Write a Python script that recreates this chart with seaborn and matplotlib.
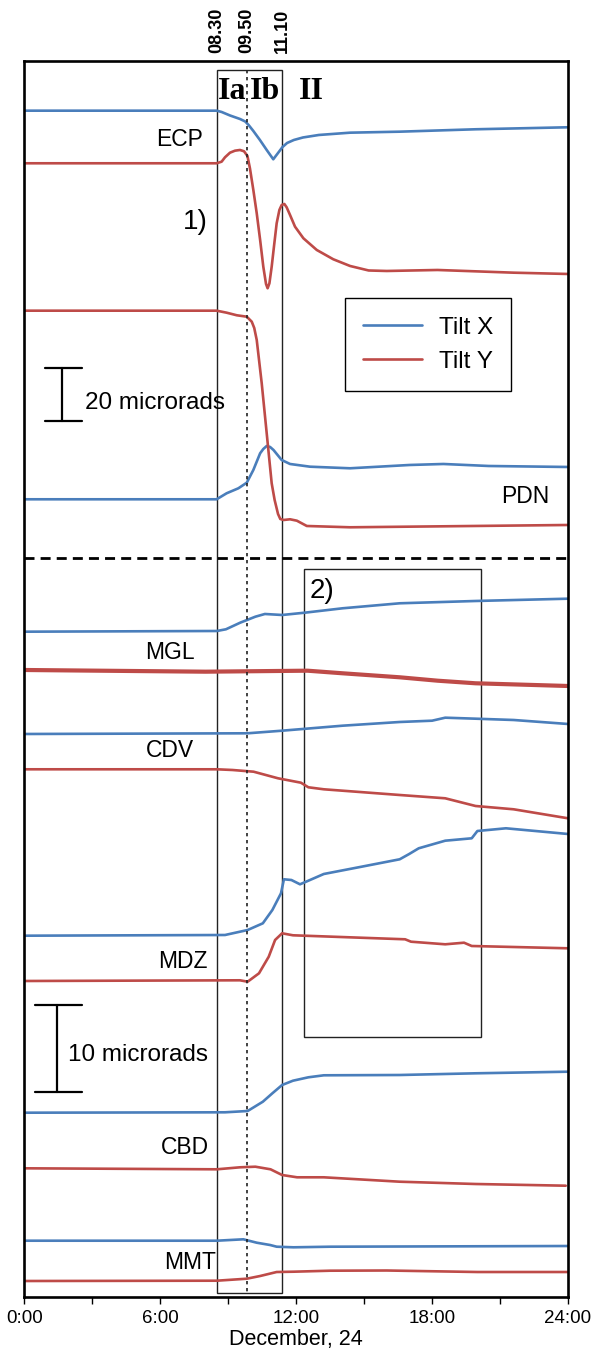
import matplotlib
matplotlib.use("Agg")
import matplotlib.pyplot as plt
from matplotlib.patches import Rectangle
from matplotlib.ticker import FixedLocator, FuncFormatter
import pandas as pd
import seaborn as sns

# ---- tilt records, December 24 (time in hours, vertical position in plot units) ----
ecp_x_t = [0, 8.49, 8.71, 9.08, 9.52, 9.75, 9.9, 10.11, 10.4, 10.7, 10.99, 11.2, 11.4, 11.6,
           11.9, 12.3, 13.0, 14.38, 16.57, 19.92, 24.0]
ecp_x_v = [110.7, 110.7, 112, 115.5, 119, 121.5, 125, 131, 140, 150, 159.3, 153, 147, 143,
           140, 137.5, 135, 132.7, 131.7, 129.3, 127.3]
ecp_y_t = [0, 8.49, 8.71, 8.86, 9.08, 9.30, 9.52, 9.70, 9.85, 9.96, 10.11, 10.26, 10.41, 10.55,
           10.67, 10.74, 10.82, 10.92, 11.02, 11.14, 11.26, 11.36, 11.48, 11.58, 11.73, 11.95,
           12.32, 12.91, 13.64, 14.38, 15.2, 16.0, 18.24, 21.6, 24.0]
ecp_y_v = [163.3, 163.3, 161.7, 157.3, 152.7, 150.7, 150, 151.3, 156, 168.3, 190, 213.3, 240, 266.7,
           284, 288.3, 283.3, 266.7, 246.7, 223.3, 210, 205, 204, 207.3, 215, 226.7,
           238.3, 250, 259.3, 266, 270.5, 271, 270, 272.7, 274]

pdn_y_t = [0, 8.49, 8.93, 9.38, 9.82, 10.04, 10.15, 10.26, 10.48, 10.7, 10.92, 11.05, 11.2, 11.3,
           11.45, 11.73, 12.03, 12.47, 14.38, 24.0]
pdn_y_v = [310.7, 310.7, 312.7, 315.3, 316.7, 321.7, 328, 340, 383.3, 433.3, 483.3, 500, 514, 519,
           520, 519.3, 520.7, 526, 527.3, 525]
pdn_x_t = [0, 8.49, 8.93, 9.45, 9.82, 10.11, 10.41, 10.55, 10.7, 10.85, 11.0, 11.36, 11.73,
           12.61, 14.38, 17.0, 18.5, 20.5, 24.0]
pdn_x_v = [499.3, 499.3, 493.3, 488.3, 482.7, 470, 453.3, 449, 446, 447, 450, 460, 464,
           466.7, 468.3, 465, 464, 466, 467]

mgl_x_t = [0, 8.5, 8.9, 9.53, 10.2, 10.62, 11.38, 12.38, 14.05, 16.57, 19.92, 24.0]
mgl_x_v = [631.7, 631, 629.3, 622.7, 616.7, 614, 615, 612.7, 608.3, 603.3, 601, 598.7]
mgl_y_t = [0, 8.0, 12.5, 14.05, 16.57, 18.24, 19.92, 24.0]
mgl_y_v = [670, 671.7, 670.7, 673.3, 677.3, 680.7, 683.3, 686]

cdv_x_t = [0, 9.86, 11.38, 14.05, 16.57, 18.0, 18.58, 19.92, 21.6, 24.0]
cdv_x_v = [734, 733.3, 730.7, 725.7, 722, 720.7, 717.7, 718.7, 720, 724]
cdv_y_t = [0, 8.5, 9.19, 10.12, 11.2, 12.21, 12.54, 13.22, 16.57, 18.58, 19.92, 21.6, 24.0]
cdv_y_v = [769.3, 769.3, 770, 771.7, 778.3, 782.7, 787.3, 789.3, 795, 798.3, 806, 809.3, 818.3]

mdz_x_t = [0, 8.86, 9.86, 10.53, 10.95, 11.33, 11.46, 11.79, 12.17, 12.54, 13.22, 14.89, 16.57,
           16.99, 17.41, 18.58, 19.75, 20.0, 21.26, 24.0]
mdz_x_v = [935.7, 935, 930, 923.3, 910, 893.3, 879.3, 880, 884.3, 880.7, 874, 866.7, 859.3,
           854, 848.3, 840.7, 838.3, 831, 828.3, 834]
mdz_y_t = [0, 9.52, 9.86, 10.36, 10.79, 11.07, 11.38, 11.86, 16.81, 17.07, 18.58, 19.41, 19.75, 24.0]
mdz_y_v = [981, 980.3, 981.7, 973.3, 956.7, 940, 933.3, 935.3, 939.3, 941.7, 944.3, 942.7, 946, 948.3]

cbd_x_t = [0, 8.86, 9.86, 10.53, 10.95, 11.38, 11.86, 12.54, 13.22, 16.57, 19.92, 24.0]
cbd_x_v = [1112.7, 1112.3, 1111, 1101.7, 1093.3, 1085, 1080.7, 1077.3, 1075.3, 1075, 1073.3, 1071.7]
cbd_y_t = [0, 8.5, 9.52, 10.2, 10.87, 11.38, 12.04, 13.22, 16.57, 19.92, 23.9]
cbd_y_v = [1168.3, 1169.3, 1167.3, 1166.7, 1169.3, 1175, 1177.3, 1177.3, 1181.7, 1184, 1185.7]

mmt_x_t = [0, 8.5, 9.67, 10.26, 10.85, 11.14, 11.88, 13.5, 24.0]
mmt_x_v = [1240.7, 1240.7, 1239.3, 1242.7, 1245, 1246.7, 1247.3, 1246.7, 1246]
mmt_y_t = [0, 8.5, 9.82, 10.41, 11.14, 11.88, 13.5, 16.0, 20.0, 24.0]
mmt_y_v = [1281, 1280.7, 1278.7, 1276, 1272, 1271.7, 1270.7, 1270.5, 1272, 1272]

stations = ["ECP", "PDN", "MGL", "CDV", "MDZ", "CBD", "MMT"]
tilt_x = {"ECP": (ecp_x_t, ecp_x_v), "PDN": (pdn_x_t, pdn_x_v), "MGL": (mgl_x_t, mgl_x_v),
          "CDV": (cdv_x_t, cdv_x_v), "MDZ": (mdz_x_t, mdz_x_v), "CBD": (cbd_x_t, cbd_x_v),
          "MMT": (mmt_x_t, mmt_x_v)}
tilt_y = {"ECP": (ecp_y_t, ecp_y_v), "PDN": (pdn_y_t, pdn_y_v), "MGL": (mgl_y_t, mgl_y_v),
          "CDV": (cdv_y_t, cdv_y_v), "MDZ": (mdz_y_t, mdz_y_v), "CBD": (cbd_y_t, cbd_y_v),
          "MMT": (mmt_y_t, mmt_y_v)}

# station label positions (hour, level)
station_labels = {"ECP": (6.87, 140), "PDN": (22.1, 497), "MGL": (6.43, 653), "CDV": (6.43, 751),
                  "MDZ": (7.01, 962), "CBD": (7.1, 1147), "MMT": (7.32, 1262)}

# phase boundaries (hours) and their labels
phase_bounds = [8.5, 9.83, 11.37]
phase_times = ["08.30", "09.50", "11.10"]
phase_names = [("Ia", 9.17), ("Ib", 10.63), ("II", 12.69)]

hour_ticks = [0, 6, 12, 18, 24]
hour_labels = ["0:00", "6:00", "12:00", "18:00", "24:00"]

BLUE = "#4A7EBB"
RED = "#BE4B48"

sns.set_theme(style="white")
plt.rcParams["font.family"] = ["Liberation Sans", "DejaVu Sans"]
plt.rcParams["text.color"] = "black"
plt.rcParams["axes.labelcolor"] = "black"
plt.rcParams["xtick.color"] = "black"
plt.rcParams["xtick.labelcolor"] = "black"

fig = plt.figure(figsize=(6.15, 13.55), dpi=100)
ax = fig.add_axes([0.0395, 0.0428, 0.8841, 0.9122])

rows = []
for st in stations:
    for comp, src in (("Tilt X", tilt_x), ("Tilt Y", tilt_y)):
        t, v = src[st]
        rows.append(pd.DataFrame({"hour": t, "level": v, "station": st, "component": comp}))
df = pd.concat(rows, ignore_index=True)

labelled = set()
for (st, comp), grp in df.groupby(["station", "component"], sort=False):
    color = BLUE if comp == "Tilt X" else RED
    lw = 3.0 if (st == "MGL" and comp == "Tilt Y") else 1.9
    label = comp if comp not in labelled else "_" + comp
    labelled.add(comp)
    sns.lineplot(data=grp, x="hour", y="level", ax=ax, color=color, lw=lw,
                 estimator=None, sort=False, legend=False, label=label)

ax.set_xlim(0, 24)
ax.set_ylim(1297, 61)

# event window and phase markers
ax.add_patch(Rectangle((phase_bounds[0], 70), phase_bounds[2] - phase_bounds[0], 1223,
                       fill=False, lw=1.0, ec="#222222"))
ax.plot([phase_bounds[1]] * 2, [70, 1293], color="#222222", lw=1.2, ls=(0, (2, 2.2)))
for h, s in zip(phase_bounds, phase_times):
    ax.text(h, 53, s, rotation=90, ha="center", va="bottom", fontsize=13, fontweight="bold")
for s, h in phase_names:
    ax.text(h, 92, s, ha="center", va="center", fontsize=23, fontweight="bold",
            family=["Liberation Serif", "DejaVu Serif"])

# panel separator and highlighted window 2)
ax.axhline(558, color="black", lw=2.0, ls=(0, (3.6, 2.2)))
ax.add_patch(Rectangle((12.35, 569), 7.81, 468, fill=False, lw=1.0, ec="#222222"))
ax.text(13.15, 591, "2)", ha="center", va="center", fontsize=20)
ax.text(7.54, 222, "1)", ha="center", va="center", fontsize=20)

for st, (h, y) in station_labels.items():
    ax.text(h, y, st, ha="center", va="center", fontsize=16.5)

# scale bars
def scale_bar(xc, x0, x1, y0, y1):
    ax.plot([xc, xc], [y0, y1], color="black", lw=1.6)
    ax.plot([x0, x1], [y0, y0], color="black", lw=1.6)
    ax.plot([x0, x1], [y1, y1], color="black", lw=1.6)

scale_bar(1.665, 0.91, 2.55, 368, 421)
ax.text(2.68, 403, "20 microrads", ha="left", va="center", fontsize=17.5)
scale_bar(1.44, 0.47, 2.55, 1005, 1092)
ax.text(1.93, 1055, "10 microrads", ha="left", va="center", fontsize=17.5)

leg = ax.legend(loc="upper left", bbox_to_anchor=(0.59, 0.808), fontsize=17.5, frameon=True,
                fancybox=False, edgecolor="black", framealpha=1, handlelength=2.4,
                handletextpad=0.7, borderpad=0.75, labelspacing=0.5, borderaxespad=0)
leg.get_frame().set_linewidth(1.0)

# axes styling
for sp in ax.spines.values():
    sp.set_visible(True)
    sp.set_color("black")
    sp.set_linewidth(1.9)
ax.set_yticks([])
ax.set_ylabel("")
ax.xaxis.set_major_locator(FixedLocator(hour_ticks))
ax.xaxis.set_minor_locator(FixedLocator([3, 9, 15, 21]))
ax.xaxis.set_major_formatter(FuncFormatter(lambda v, p: hour_labels[hour_ticks.index(int(round(v)))]))
ax.tick_params(axis="x", which="both", bottom=True, direction="out", length=5, width=1,
               color="black", labelsize=13.5, pad=4)
ax.set_xlabel("December, 24", fontsize=15.5, labelpad=2)

fig.savefig("out.png", dpi=100)
